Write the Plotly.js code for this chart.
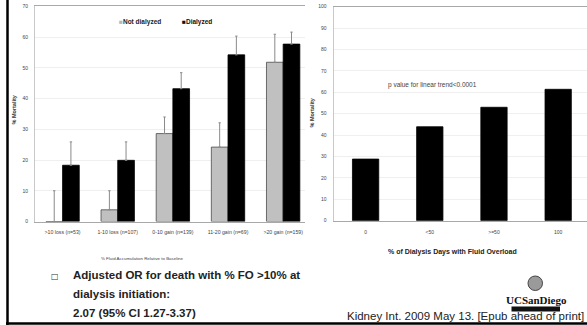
<!DOCTYPE html>
<html>
<head>
<meta charset="utf-8">
<script src="https://cdn.plot.ly/plotly-3.0.1.min.js"></script>
<style>html,body{margin:0;padding:0;background:#fff;}#chart{width:587px;height:325px;}</style>
</head>
<body>
<div id="chart"></div>
<script>
// ---- data ----
const fluidCategories = ['>10 loss (n=53)', '1-10 loss (n=107)', '0-10 gain (n=139)', '11-20 gain (n=69)', '>20 gain (n=159)'];
const notDialyzed = [0, 3.8, 28.6, 24.2, 51.8];
const notDialyzedUpper = [10, 10, 34.0, 32.1, 60.9];
const dialyzed = [18.3, 19.9, 43.2, 54.2, 57.7];
const dialyzedUpper = [25.9, 25.9, 48.4, 60.3, 61.6];
const foCategories = ['0', '<50', '>=50', '100'];
const foMortality = [28.8, 43.9, 53.0, 61.4];

// ---- helpers for pixel placement ----
const W = 587, H = 325;
const px = v => v / W;
const py = v => 1 - v / H;
const F = 'Liberation Sans, Arial, sans-serif';

const diff = (a, b) => a.map((v, i) => v - b[i]);

const traces = [
  {
    type: 'bar', name: 'Not dialyzed', x: fluidCategories, y: notDialyzed,
    xaxis: 'x', yaxis: 'y',
    marker: {color: '#c0c0c0', line: {color: '#4a4a4a', width: 0.8}},
    error_y: {type: 'data', symmetric: false, array: diff(notDialyzedUpper, notDialyzed),
              arrayminus: notDialyzed.map(() => 0), color: '#8a8a8a', thickness: 1, width: 1.2},
    hoverinfo: 'skip'
  },
  {
    type: 'bar', name: 'Dialyzed', x: fluidCategories, y: dialyzed,
    xaxis: 'x', yaxis: 'y',
    marker: {color: '#000000', line: {color: '#000000', width: 0.8}},
    error_y: {type: 'data', symmetric: false, array: diff(dialyzedUpper, dialyzed),
              arrayminus: dialyzed.map(() => 0), color: '#8a8a8a', thickness: 1, width: 1.2},
    hoverinfo: 'skip'
  },
  {
    type: 'bar', name: 'Mortality', x: foCategories, y: foMortality,
    xaxis: 'x2', yaxis: 'y2', width: 0.41,
    marker: {color: '#000000', line: {color: '#000000', width: 0.8}},
    hoverinfo: 'skip'
  }
];

const tickFont = {family: F, size: 5, color: '#444'};

const layout = {
  width: W, height: H,
  margin: {l: 0, r: 0, t: 0, b: 0},
  paper_bgcolor: '#ffffff', plot_bgcolor: '#ffffff',
  showlegend: false,
  barmode: 'group', bargap: 0.395, bargroupgap: 0,
  xaxis: {
    domain: [px(35), px(305)], anchor: 'y', type: 'category',
    range: [-0.5, 4.396], fixedrange: true,
    showline: true, linecolor: '#a8a8a8', linewidth: 1, mirror: true,
    showgrid: false, zeroline: false,
    ticks: 'outside', ticklen: 5, tickcolor: 'rgba(0,0,0,0)',
    tickfont: {family: F, size: 5.2, color: '#444'}, tickangle: 0
  },
  yaxis: {
    domain: [py(221.5), py(6.3)], anchor: 'x',
    range: [0, 70], dtick: 10, fixedrange: true,
    showline: true, linecolor: '#c8c8c8', linewidth: 1,
    showgrid: true, gridcolor: '#efefef', gridwidth: 1, zeroline: false,
    ticks: 'outside', ticklen: 5, tickcolor: 'rgba(0,0,0,0)',
    tickfont: tickFont
  },
  xaxis2: {
    domain: [px(333.5), 1], anchor: 'y2', type: 'category',
    range: [-0.5, 3.449], fixedrange: true,
    showline: true, linecolor: '#a8a8a8', linewidth: 1, mirror: true,
    showgrid: false, zeroline: false,
    ticks: 'outside', ticklen: 6, tickcolor: 'rgba(0,0,0,0)',
    tickfont: tickFont, tickangle: 0
  },
  yaxis2: {
    domain: [py(220.7), py(6.7)], anchor: 'x2',
    range: [0, 100], dtick: 10, fixedrange: true,
    showline: true, linecolor: '#c8c8c8', linewidth: 1,
    showgrid: true, gridcolor: '#efefef', gridwidth: 1, zeroline: false,
    ticks: 'outside', ticklen: 5, tickcolor: 'rgba(0,0,0,0)',
    tickfont: tickFont
  },
  shapes: [
    // slide border lines
    {type: 'line', xref: 'paper', yref: 'paper', x0: px(7.5), x1: px(7.5), y0: 0, y1: 1,
     line: {color: '#000', width: 2.5}},
    {type: 'line', xref: 'paper', yref: 'paper', x0: px(6), x1: 1, y0: py(323.5), y1: py(323.5),
     line: {color: '#000', width: 2.5}},
    // UCSD logo pieces
    {type: 'circle', xref: 'paper', yref: 'paper', x0: px(528), x1: px(542.5), y0: py(290.5), y1: py(276),
     fillcolor: '#9a9a9a', line: {color: '#444', width: 1}},
    {type: 'rect', xref: 'paper', yref: 'paper', x0: px(511.5), x1: px(560), y0: py(311.5), y1: py(306.5),
     fillcolor: '#111', line: {width: 0}}
  ],
  annotations: [
    // legend (left chart)
    {xref: 'paper', yref: 'paper', x: px(117), y: py(22), xanchor: 'left', yanchor: 'middle', showarrow: false,
     text: '<span style="color:#b8b8b8">■</span><b>Not dialyzed</b>', font: {family: F, size: 6.5, color: '#222'}},
    {xref: 'paper', yref: 'paper', x: px(179.5), y: py(22), xanchor: 'left', yanchor: 'middle', showarrow: false,
     text: '■<b>Dialyzed</b>', font: {family: F, size: 6.5, color: '#111'}},
    // left axis titles
    {xref: 'paper', yref: 'paper', x: px(13.5), y: py(110), xanchor: 'center', yanchor: 'middle', showarrow: false,
     textangle: -90, text: '<b>% Mortality</b>', font: {family: F, size: 5.5, color: '#333'}},
    {xref: 'paper', yref: 'paper', x: px(99), y: py(258), xanchor: 'left', yanchor: 'middle', showarrow: false,
     text: '% Fluid Accumulation Relative to Baseline', font: {family: F, size: 4.4, color: '#444'}},
    // right axis titles
    {xref: 'paper', yref: 'paper', x: px(311.5), y: py(113), xanchor: 'center', yanchor: 'middle', showarrow: false,
     textangle: -90, text: '<b>% Mortality</b>', font: {family: F, size: 5.5, color: '#333'}},
    {xref: 'paper', yref: 'paper', x: px(386), y: py(251.5), xanchor: 'left', yanchor: 'middle', showarrow: false,
     text: '<b>% of Dialysis Days with Fluid Overload</b>', font: {family: F, size: 7, color: '#222'}},
    {xref: 'paper', yref: 'paper', x: px(386), y: py(85), xanchor: 'left', yanchor: 'middle', showarrow: false,
     text: 'p value for linear trend&lt;0.0001', font: {family: F, size: 6.5, color: '#444'}},
    // slide text
    {xref: 'paper', yref: 'paper', x: px(55), y: py(276), xanchor: 'center', yanchor: 'middle', showarrow: false,
     text: '□', font: {family: 'DejaVu Sans', size: 8, color: '#333'}},
    {xref: 'paper', yref: 'paper', x: px(71), y: py(275), xanchor: 'left', yanchor: 'middle', showarrow: false,
     text: '<b>Adjusted OR for death with % FO &gt;10% at</b>', font: {family: F, size: 11.5, color: '#222'}},
    {xref: 'paper', yref: 'paper', x: px(71), y: py(294), xanchor: 'left', yanchor: 'middle', showarrow: false,
     text: '<b>dialysis initiation:</b>', font: {family: F, size: 11.5, color: '#222'}},
    {xref: 'paper', yref: 'paper', x: px(71), y: py(313), xanchor: 'left', yanchor: 'middle', showarrow: false,
     text: '<b>2.07 (95% CI 1.27-3.37)</b>', font: {family: F, size: 11.5, color: '#222'}},
    // logo text
    {xref: 'paper', yref: 'paper', x: px(536), y: py(299.5), xanchor: 'center', yanchor: 'middle', showarrow: false,
     text: '<b>UCSanDiego</b>', font: {family: 'Liberation Serif, serif', size: 11, color: '#111'}},
    // citation
    {xref: 'paper', yref: 'paper', x: px(586), y: py(315.5), xanchor: 'right', yanchor: 'middle', showarrow: false,
     text: 'Kidney Int. 2009 May 13. [Epub ahead of print]', font: {family: F, size: 11.5, color: '#222'}}
  ]
};

Plotly.newPlot('chart', traces, layout, {staticPlot: true, displayModeBar: false});
</script>
</body>
</html>
